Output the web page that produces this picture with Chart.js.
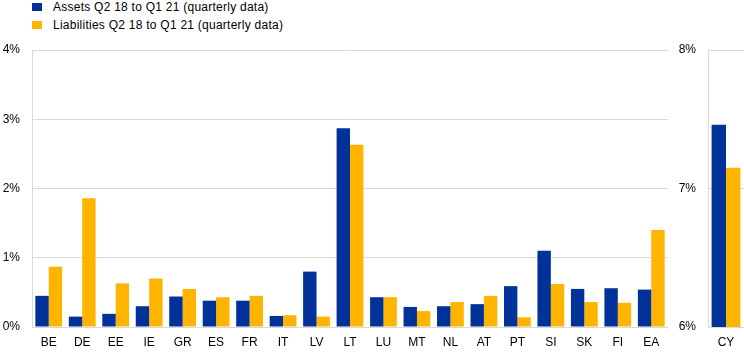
<!DOCTYPE html>
<html>
<head>
<meta charset="utf-8">
<script src="https://cdn.jsdelivr.net/npm/chart.js@4"></script>
<style>
    body { margin: 0; background: #fff; font-family: "Liberation Sans", Arial, sans-serif; }
    #wrap { position: relative; width: 744px; height: 353px; overflow: hidden; }
    .legend { position: absolute; left: 32px; font-size: 12px; color: #000; line-height: 14px; letter-spacing: 0.25px; }
    .legend span { display: inline-block; width: 10px; height: 8px; margin-right: 11px; }
    #leftBox { position: absolute; left: 0; top: 0; width: 668px; height: 353px; }
    #rightBox { position: absolute; left: 668px; top: 0; width: 76px; height: 353px; }
</style>
</head>
<body>
<div id="wrap">
    <div class="legend" style="top:0px"><span style="background:#003299"></span>Assets Q2 18 to Q1 21 (quarterly data)</div>
    <div class="legend" style="top:18px"><span style="background:#ffb400"></span>Liabilities Q2 18 to Q1 21 (quarterly data)</div>
    <div id="leftBox"><canvas id="leftChart"></canvas></div>
    <div id="rightBox"><canvas id="rightChart"></canvas></div>
</div>
<script>
const countries = ["BE", "DE", "EE", "IE", "GR", "ES", "FR", "IT", "LV", "LT", "LU", "MT", "NL", "AT", "PT", "SI", "SK", "FI", "EA"];
const assets = [0.45, 0.15, 0.19, 0.30, 0.44, 0.38, 0.38, 0.16, 0.80, 2.87, 0.43, 0.29, 0.30, 0.33, 0.59, 1.10, 0.55, 0.56, 0.54];
const liabilities = [0.87, 1.86, 0.63, 0.70, 0.55, 0.43, 0.45, 0.17, 0.15, 2.63, 0.43, 0.23, 0.36, 0.45, 0.14, 0.62, 0.36, 0.35, 1.40];

const cyLabel = ["CY"];
const cyAssets = [7.46];
const cyLiabilities = [7.15];

const seriesNames = ["Assets Q2 18 to Q1 21 (quarterly data)", "Liabilities Q2 18 to Q1 21 (quarterly data)"];
const blue = "#003299";
const yellow = "#ffb400";
const gridColor = "#d9d9d9";
const tickFont = { family: "'Liberation Sans', Arial, sans-serif", size: 12 };

Chart.defaults.animation = false;
Chart.defaults.color = "#000";

function makeOptions(min, max, yWidth) {
    return {
        responsive: true,
        maintainAspectRatio: false,
        layout: { padding: { top: 50, right: 0, bottom: 0, left: 0 } },
        plugins: {
            legend: { display: false },
            tooltip: { enabled: false }
        },
        scales: {
            x: {
                grid: { display: false, drawTicks: false },
                border: { display: true, color: gridColor, width: 1 },
                ticks: { font: tickFont, padding: 8, maxRotation: 0, autoSkip: false },
                afterFit: s => { s.height = 26; }
            },
            y: {
                min: min,
                max: max,
                grid: { color: gridColor, lineWidth: 1, drawTicks: false },
                border: { display: true, color: gridColor, width: 1 },
                ticks: {
                    font: tickFont,
                    padding: 12,
                    stepSize: 1,
                    callback: v => v + "%"
                },
                afterFit: s => { s.width = yWidth; }
            }
        }
    };
}

function makeData(labels, a, l) {
    return {
        labels: labels,
        datasets: [
            {
                label: seriesNames[0],
                data: a,
                backgroundColor: blue,
                categoryPercentage: 0.8,
                barPercentage: 1.0
            },
            {
                label: seriesNames[1],
                data: l,
                backgroundColor: yellow,
                categoryPercentage: 0.8,
                barPercentage: 1.0
            }
        ]
    };
}

new Chart(document.getElementById("leftChart"), {
    type: "bar",
    data: makeData(countries, assets, liabilities),
    options: makeOptions(0, 4, 32)
});

new Chart(document.getElementById("rightChart"), {
    type: "bar",
    data: makeData(cyLabel, cyAssets, cyLiabilities),
    options: makeOptions(6, 8, 40)
});
</script>
</body>
</html>
